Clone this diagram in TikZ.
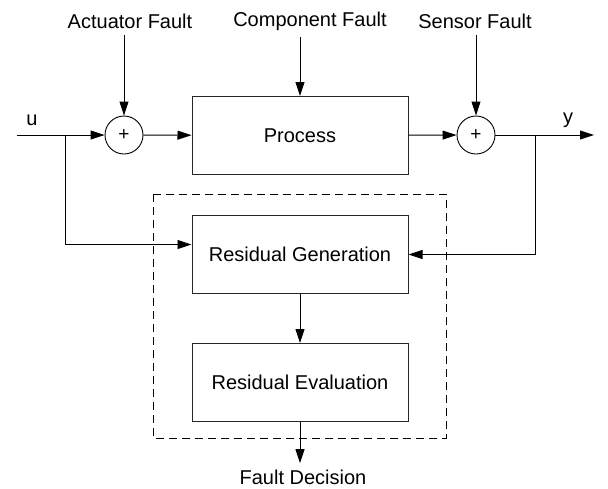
\documentclass[tikz,border=0pt]{standalone}
\usepackage{fontspec}
\setmainfont{Liberation Sans}
\usetikzlibrary{arrows.meta, positioning}
\tikzstyle{block} = [rectangle, minimum width=216pt, minimum height=78pt, text centered, draw=black!85, line width=1pt]
\tikzstyle{sum} = [circle, minimum size=38pt, inner sep=0pt, draw=black, line width=0.9pt, font=\fontsize{19}{20}\selectfont]
\tikzstyle{fault} = [text centered]
\tikzstyle{line} = [line width=0.9pt]
\tikzstyle{arrow} = [line width=0.9pt, -{Triangle[length=14pt,width=9pt]}]

\begin{document}
\begin{tikzpicture}[x=1pt, y=-1pt, font=\fontsize{20}{24}\selectfont]
\useasboundingbox (0,0) rectangle (608,488);

% forward path
\coordinate (in) at (17,135);
\coordinate (b1) at (65,135);
\node (sum1) [sum] at (124,135) {+};
\node (proc) [block] at (300,135.5) {Process};
\node (sum2) [sum] at (476,135) {+};
\coordinate (b2) at (535,135);
\coordinate (out) at (594,135);
\node (lu) at (32,120) {u};
\node (ly) at (568,120) {y};

% fault inputs
\node (actf) [fault] at (130,21) {Actuator Fault};
\node (compf) [fault] at (310,21) {Component Fault};
\node (sensf) [fault] at (475,21) {Sensor Fault};

% diagnosis part
\node (resgen) [block, below=40pt of proc] {Residual Generation};
\node (resev) [block, below=49pt of resgen] {Residual Evaluation};
\node (fdec) at (303,477) {Fault Decision};
\draw [line, dash pattern=on 8pt off 5pt] (153,194) rectangle (446,438);

\draw [line] (in) -- (b1);
\draw [arrow] (b1) -- (sum1);
\draw [arrow] (sum1) -- (proc);
\draw [arrow] (proc) -- (sum2);
\draw [arrow] (sum2) -- (out);
\draw [arrow] ([yshift=-3pt]actf.south -| sum1) -- (sum1);
\draw [arrow] ([yshift=-3pt]compf.south -| proc) -- (proc);
\draw [arrow] ([yshift=-3pt]sensf.south -| sum2) -- (sum2);
\draw [arrow] (b1) |- ([yshift=10pt]resgen.west);
\draw [arrow] (b2) |- (resgen.east);
\draw [arrow] (resgen) -- (resev);
\draw [arrow] (resev.south) -- ([yshift=3pt]resev.south |- fdec.north);
\end{tikzpicture}
\end{document}
